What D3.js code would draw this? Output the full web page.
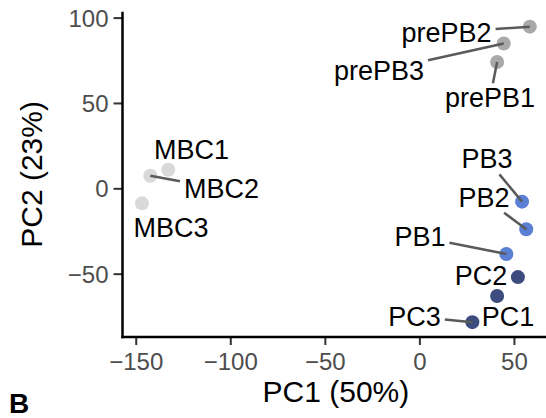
<!DOCTYPE html>
<html>
<head>
<meta charset="utf-8">
<script src="https://cdn.jsdelivr.net/npm/d3@7"></script>
<style>
  body { margin: 0; background: #fff; }
  svg { display: block; }
  text { font-family: "Liberation Sans", Arial, Helvetica, sans-serif; }
</style>
</head>
<body>
<svg id="chart" width="546" height="418"></svg>
<script>
// PCA scores
const samples = ["prePB2", "prePB3", "prePB1", "MBC1", "MBC2", "MBC3",
                 "PB3", "PB2", "PB1", "PC2", "PC1", "PC3"];
const groups  = ["prePB", "prePB", "prePB", "MBC", "MBC", "MBC",
                 "PB", "PB", "PB", "PC", "PC", "PC"];
const pc1 = [58.4, 44.6, 41.1, -132.8, -142.3, -146.7, 54.3, 56.5, 46.0, 52.1, 41.1, 28.0];
const pc2 = [94.7, 84.8, 74.0, 10.9, 7.4, -8.8, -7.8, -24.0, -38.5, -52.0, -63.1, -78.4];
const xTicks = [-150, -100, -50, 0, 50];
const yTicks = [-50, 0, 50, 100];
const groupNames = ["MBC", "prePB", "PB", "PC"];

// repelled label placement (pixels relative to point: centre x, baseline y)
const labelOffsets = [[-83.3, 15], [-124.7, 36.4], [-7.1, 45.3], [23.2, -10.4],
                      [71.2, 22.6], [29, 33.4], [-35.1, -33.3], [-42.2, -22.6],
                      [-86.4, -8], [-36.9, 7.9], [10.9, 29.7], [-57.8, 3.6]];

const svg = d3.select("#chart");
const panel = {left: 122.5, right: 549.3, top: 11.8, bottom: 337};

const x = d3.scaleLinear().domain([-157, 68.7]).range([panel.left, panel.right]);
const y = d3.scaleLinear().domain([-87.1, 103.4]).range([panel.bottom, panel.top]);
const color = d3.scaleOrdinal().domain(groupNames)
  .range(["#d9d9d9", "#a9a9a9", "#5a7fd3", "#3c4c7e"]);

const data = samples.map((s, i) => ({name: s, group: groups[i], x: pc1[i], y: pc2[i], off: labelOffsets[i]}));

// axes
const xAxis = svg.append("g")
  .attr("transform", "translate(0," + panel.bottom + ")")
  .call(d3.axisBottom(x).tickValues(xTicks).tickSize(8).tickPadding(7).tickFormat(d3.format("")));
const yAxis = svg.append("g")
  .attr("transform", "translate(" + panel.left + ",0)")
  .call(d3.axisLeft(y).tickValues(yTicks).tickSize(9).tickPadding(5).tickFormat(d3.format("")));

[xAxis, yAxis].forEach(g => {
  g.select(".domain").remove();
  g.selectAll(".tick line").attr("stroke", "#333").attr("stroke-width", 2);
  g.selectAll(".tick text").attr("fill", "#4d4d4d").style("font-size", "24px");
});
xAxis.selectAll(".tick text").attr("dy", null).attr("y", 33);
yAxis.selectAll(".tick text").attr("dy", "0.36em");

svg.append("line")
  .attr("x1", panel.left).attr("x2", panel.left)
  .attr("y1", panel.top).attr("y2", panel.bottom + 1.2)
  .attr("stroke", "#000").attr("stroke-width", 2.5);
svg.append("line")
  .attr("x1", panel.left - 1.2).attr("x2", 546)
  .attr("y1", panel.bottom).attr("y2", panel.bottom)
  .attr("stroke", "#000").attr("stroke-width", 2.5);

// points
svg.append("g").selectAll("circle")
  .data(data)
  .enter()
  .append("circle")
  .attr("cx", d => x(d.x))
  .attr("cy", d => y(d.y))
  .attr("r", 7)
  .attr("fill", d => color(d.group));

// label segments (from label box edge towards point)
const labelSize = 27;
const measure = svg.append("text").style("font-size", labelSize + "px").attr("opacity", 0);
data.forEach(d => {
  measure.text(d.name);
  d.w = measure.node().getComputedTextLength();
  d.lx = x(d.x) + d.off[0];
  d.ly = y(d.y) + d.off[1];
  const cx = d.lx, cy = d.ly - 9;
  const dx = x(d.x) - cx, dy = y(d.y) - cy;
  const hw = d.w / 2 + 4, hh = 15;
  const t = Math.min(dx !== 0 ? Math.abs(hw / dx) : Infinity, dy !== 0 ? Math.abs(hh / dy) : Infinity);
  d.sx = cx + dx * t;
  d.sy = cy + dy * t;
  d.rest = (1 - t) * Math.hypot(dx, dy);
});
measure.remove();

svg.append("g").selectAll("line")
  .data(data.filter(d => d.rest > 18))
  .enter()
  .append("line")
  .attr("x1", d => d.sx)
  .attr("y1", d => d.sy)
  .attr("x2", d => x(d.x))
  .attr("y2", d => y(d.y))
  .attr("stroke", "#5a5a5a")
  .attr("stroke-width", 2.5);

svg.append("g").selectAll("text")
  .data(data)
  .enter()
  .append("text")
  .attr("x", d => d.lx)
  .attr("y", d => d.ly)
  .attr("text-anchor", "middle")
  .style("font-size", labelSize + "px")
  .attr("fill", "#000")
  .text(d => d.name);

// axis titles
svg.append("text")
  .attr("x", (panel.left + panel.right) / 2)
  .attr("y", 402)
  .attr("text-anchor", "middle")
  .style("font-size", "30px")
  .text("PC1 (50%)");
svg.append("text")
  .attr("transform", "translate(41.5," + ((panel.top + panel.bottom) / 2) + ") rotate(-90)")
  .attr("text-anchor", "middle")
  .style("font-size", "30px")
  .text("PC2 (23%)");

// panel tag
svg.append("text")
  .attr("x", 9)
  .attr("y", 413)
  .style("font-size", "28px")
  .style("font-weight", "bold")
  .text("B");
</script>
</body>
</html>
